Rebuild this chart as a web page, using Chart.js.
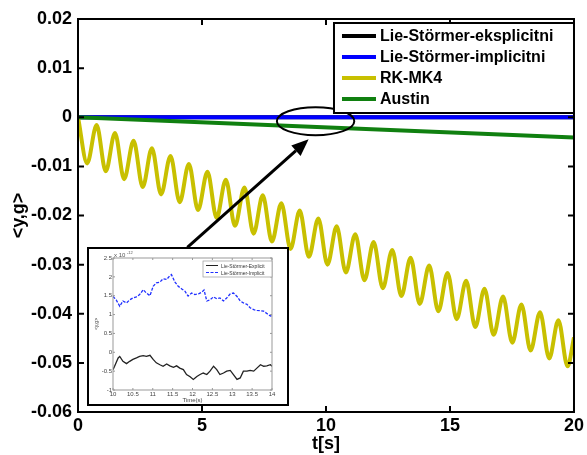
<!DOCTYPE html>
<html>
<head>
<meta charset="utf-8">
<script src="https://cdn.jsdelivr.net/npm/chart.js@4.4.1/dist/chart.umd.min.js"></script>
<style>
html, body { margin: 0; padding: 0; background: #fff; }
#wrap { position: relative; width: 587px; height: 455px; }
#inset { position: absolute; left: 87px; top: 247px; width: 202px; height: 159px; border: 2px solid #000; box-sizing: border-box; background: #fff; }
#inset canvas { position: absolute; left: 0; top: 0; }
</style>
</head>
<body>
<div id="wrap">
  <canvas id="mainChart" width="587" height="455"></canvas>
  <div id="inset"><canvas id="insetChart" width="198" height="155"></canvas></div>
</div>
<script>
// main plot
var tLine = [0, 20];
var explicitY = [0, 0];
var implicitY = [0, 0];
var austinY = [0, -0.0041];
var rkT = [0,0.37,0.75,1.12,1.49,1.86,2.24,2.61,2.98,3.35,3.73,4.10,4.47,4.84,5.22,5.59,5.96,6.33,6.71,7.08,7.45,7.82,8.20,8.57,8.94,9.31,9.69,10.06,10.43,10.80,11.18,11.55,11.92,12.29,12.67,13.04,13.41,13.78,14.16,14.53,14.90,15.27,15.65,16.02,16.39,16.76,17.14,17.51,17.88,18.25,18.63,19.00,19.37,19.74,20];
var rkY = [0,-0.0094,-0.0016,-0.0110,-0.0032,-0.0126,-0.0048,-0.0142,-0.0063,-0.0157,-0.0079,-0.0173,-0.0095,-0.0189,-0.0111,-0.0205,-0.0127,-0.0221,-0.0143,-0.0237,-0.0159,-0.0253,-0.0175,-0.0268,-0.0190,-0.0284,-0.0206,-0.0300,-0.0222,-0.0316,-0.0238,-0.0332,-0.0254,-0.0348,-0.0270,-0.0364,-0.0286,-0.0380,-0.0302,-0.0395,-0.0317,-0.0411,-0.0333,-0.0427,-0.0349,-0.0443,-0.0365,-0.0459,-0.0381,-0.0475,-0.0397,-0.0491,-0.0413,-0.0507,-0.0448];
var seriesNames = ['Lie-Störmer-eksplicitni', 'Lie-Störmer-implicitni', 'RK-MK4', 'Austin'];
var xTicks = [0, 5, 10, 15, 20];
var yTicks = [0.02, 0.01, 0, -0.01, -0.02, -0.03, -0.04, -0.05, -0.06];

// zoomed inset (values x 1e-12)
var insetImplT = [10.0,10.08,10.17,10.25,10.34,10.42,10.5,10.59,10.67,10.76,10.84,10.93,11.01,11.09,11.18,11.26,11.35,11.43,11.47,11.56,11.64,11.73,11.81,11.89,11.98,12.06,12.15,12.23,12.29,12.36,12.44,12.53,12.61,12.69,12.78,12.86,12.95,13.03,13.12,13.2,13.28,13.37,13.45,13.54,13.62,13.71,13.79,13.87,13.96,14.0];
var insetImplY = [1.48,1.39,1.22,1.36,1.31,1.39,1.44,1.47,1.53,1.66,1.57,1.50,1.75,1.84,1.86,1.95,1.93,2.03,2.06,1.86,1.75,1.68,1.62,1.49,1.57,1.53,1.55,1.59,1.65,1.36,1.39,1.47,1.42,1.44,1.36,1.44,1.55,1.57,1.48,1.36,1.31,1.27,1.18,1.13,1.11,1.10,1.09,1.03,0.96,0.98];
var insetExplT = [10.0,10.04,10.13,10.17,10.25,10.34,10.42,10.5,10.59,10.67,10.76,10.84,10.93,11.01,11.09,11.18,11.26,11.35,11.43,11.52,11.6,11.68,11.77,11.85,11.94,12.02,12.11,12.19,12.27,12.36,12.44,12.53,12.61,12.69,12.78,12.86,12.95,13.03,13.12,13.2,13.28,13.37,13.45,13.54,13.62,13.71,13.79,13.87,13.96,14.0];
var insetExplY = [-0.46,-0.37,-0.15,-0.11,-0.24,-0.30,-0.24,-0.19,-0.15,-0.11,-0.09,-0.11,-0.08,-0.19,-0.28,-0.33,-0.37,-0.31,-0.36,-0.40,-0.36,-0.42,-0.46,-0.59,-0.65,-0.72,-0.64,-0.59,-0.55,-0.59,-0.50,-0.37,-0.46,-0.59,-0.55,-0.50,-0.48,-0.59,-0.72,-0.68,-0.50,-0.50,-0.48,-0.50,-0.42,-0.33,-0.37,-0.36,-0.33,-0.37];
var insetNames = ['Lie-Störmer-Explicit', 'Lie-Störmer-Implicit'];
var insetXTicks = [10, 10.5, 11, 11.5, 12, 12.5, 13, 13.5, 14];
var insetYTicks = [2.5, 2, 1.5, 1, 0.5, 0, -0.5, -1];

function pts(xs, ys) {
    var out = [];
    for (var i = 0; i < xs.length; i++) out.push({x: xs[i], y: ys[i]});
    return out;
}
function fixTicks(list) {
    return function (s) { s.ticks = list.map(function (v) { return {value: v}; }); };
}
function plain(v) { return String(Math.round(v * 100) / 100); }

var BOLD = '"Liberation Sans", Arial, sans-serif';

// box round the axes plus inward ticks, matlab style
var frameTicks = {
    id: 'frameTicks',
    afterDatasetsDraw: function (chart, args, opts) {
        var ctx = chart.ctx, a = chart.chartArea;
        var xs = chart.scales.x, ys = chart.scales.y;
        ctx.save();
        ctx.strokeStyle = opts.color;
        ctx.lineWidth = opts.width;
        ctx.beginPath();
        xs.ticks.forEach(function (tk) {
            var px = xs.getPixelForValue(tk.value);
            ctx.moveTo(px, a.bottom); ctx.lineTo(px, a.bottom - opts.len);
            ctx.moveTo(px, a.top); ctx.lineTo(px, a.top + opts.len);
        });
        ys.ticks.forEach(function (tk) {
            var py = ys.getPixelForValue(tk.value);
            ctx.moveTo(a.left, py); ctx.lineTo(a.left + opts.len, py);
            ctx.moveTo(a.right, py); ctx.lineTo(a.right - opts.len, py);
        });
        ctx.stroke();
        ctx.strokeRect(a.left, a.top, a.right - a.left, a.bottom - a.top);
        ctx.restore();
    }
};

// boxed legend inside the top right corner
var boxLegend = {
    id: 'boxLegend',
    afterDraw: function (chart, args, o) {
        var ctx = chart.ctx, a = chart.chartArea;
        var ds = chart.data.datasets;
        var left = a.right - o.right - o.w, top = a.top + o.top;
        ctx.save();
        ctx.fillStyle = '#fff';
        ctx.fillRect(left, top, o.w, o.h);
        ctx.strokeStyle = o.frame;
        ctx.lineWidth = o.frameWidth;
        ctx.strokeRect(left, top, o.w, o.h);
        ctx.font = o.font;
        ctx.textBaseline = 'middle';
        ctx.fillStyle = o.textColor;
        for (var i = 0; i < ds.length; i++) {
            var y = top + o.first + i * o.row;
            ctx.strokeStyle = ds[i].borderColor;
            ctx.lineWidth = o.lineWidth;
            ctx.setLineDash(ds[i].borderDash || []);
            ctx.beginPath();
            ctx.moveTo(left + o.pad, y);
            ctx.lineTo(left + o.pad + o.sample, y);
            ctx.stroke();
            ctx.setLineDash([]);
            ctx.fillText(ds[i].label, left + o.pad + o.sample + o.gap, y + 1);
        }
        ctx.restore();
    }
};

// ellipse round the zero lines and the arrow from the inset
var zoomMark = {
    id: 'zoomMark',
    afterDatasetsDraw: function (chart, args, o) {
        var ctx = chart.ctx, xs = chart.scales.x, ys = chart.scales.y;
        var cx = xs.getPixelForValue(o.ellipse.t), cy = ys.getPixelForValue(o.ellipse.y);
        var rx = xs.getPixelForValue(o.ellipse.t + o.ellipse.rt) - cx;
        var ry = cy - ys.getPixelForValue(o.ellipse.y + o.ellipse.ry);
        ctx.save();
        ctx.strokeStyle = '#000';
        ctx.lineWidth = 2;
        ctx.beginPath();
        ctx.ellipse(cx, cy, rx, ry, 0, 0, Math.PI * 2);
        ctx.stroke();

        var x0 = xs.getPixelForValue(o.arrow.t0), y0 = ys.getPixelForValue(o.arrow.y0);
        var x1 = xs.getPixelForValue(o.arrow.t1), y1 = ys.getPixelForValue(o.arrow.y1);
        var ang = Math.atan2(y1 - y0, x1 - x0);
        var hl = 17, hw = 7;
        var bx = x1 - hl * Math.cos(ang), by = y1 - hl * Math.sin(ang);
        ctx.lineWidth = 3;
        ctx.beginPath();
        ctx.moveTo(x0, y0);
        ctx.lineTo(bx, by);
        ctx.stroke();
        ctx.fillStyle = '#000';
        ctx.beginPath();
        ctx.moveTo(x1, y1);
        ctx.lineTo(bx + hw * Math.sin(ang), by - hw * Math.cos(ang));
        ctx.lineTo(bx - hw * Math.sin(ang), by + hw * Math.cos(ang));
        ctx.closePath();
        ctx.fill();
        ctx.restore();
    }
};

var mainChart = new Chart(document.getElementById('mainChart'), {
    type: 'line',
    data: {
        datasets: [
            {label: seriesNames[0], data: pts(tLine, explicitY), borderColor: '#000000', borderWidth: 4, order: 4},
            {label: seriesNames[1], data: pts(tLine, implicitY), borderColor: '#0000ff', borderWidth: 4, order: 3},
            {label: seriesNames[2], data: pts(rkT, rkY), borderColor: '#c8c000', borderWidth: 4, cubicInterpolationMode: 'monotone', order: 2},
            {label: seriesNames[3], data: pts(tLine, austinY), borderColor: '#108010', borderWidth: 4, order: 1}
        ]
    },
    options: {
        responsive: false,
        animation: false,
        devicePixelRatio: 1,
        layout: {padding: {top: 19, right: 10, left: 0, bottom: 0}},
        elements: {point: {radius: 0}},
        scales: {
            x: {
                type: 'linear', min: 0, max: 20,
                afterBuildTicks: fixTicks(xTicks),
                afterFit: function (s) { s.height = 43; },
                grid: {display: false, drawTicks: false},
                border: {display: false},
                ticks: {color: '#000', padding: 3, maxRotation: 0, font: {family: BOLD, size: 18, weight: 'bold'}, callback: plain},
                title: {display: true, text: 't[s]', color: '#000', padding: {top: 0, bottom: 0}, font: {family: BOLD, size: 18, weight: 'bold'}}
            },
            y: {
                type: 'linear', min: -0.06, max: 0.02,
                afterBuildTicks: fixTicks(yTicks),
                afterFit: function (s) { s.width = 78; },
                grid: {display: false, drawTicks: false},
                border: {display: false},
                ticks: {
                    color: '#000', padding: 6, font: {family: BOLD, size: 18, weight: 'bold'},
                    callback: function (v) { var r = Math.round(v * 100) / 100; return r === 0 ? '0' : r.toFixed(2); }
                },
                title: {display: true, text: '<y,g>', color: '#000', padding: {top: 8, bottom: 0}, font: {family: BOLD, size: 18, weight: 'bold'}}
            }
        },
        plugins: {
            legend: {display: false},
            tooltip: {enabled: false},
            frameTicks: {color: '#000', width: 2, len: 6},
            boxLegend: {right: 0, top: 4, w: 240, h: 90, pad: 8, sample: 34, gap: 4, first: 13, row: 21,
                        font: 'bold 16px ' + BOLD, textColor: '#000', frame: '#000', frameWidth: 2, lineWidth: 4},
            zoomMark: {
                ellipse: {t: 9.58, y: -0.0008, rt: 1.56, ry: 0.00285},
                arrow: {t0: 4.41, y0: -0.0265, t1: 9.30, y1: -0.0045}
            }
        }
    },
    plugins: [frameTicks, zoomMark, boxLegend]
});

// inset: exponent label drawn by hand
var insetExtras = {
    id: 'insetExtras',
    afterDraw: function (chart) {
        var ctx = chart.ctx, a = chart.chartArea;
        ctx.save();
        ctx.fillStyle = '#555';
        ctx.font = '6px ' + BOLD;
        ctx.textBaseline = 'alphabetic';
        ctx.fillText('x 10', a.left + 1, a.top - 1);
        ctx.font = '4px ' + BOLD;
        ctx.fillText('-12', a.left + 14, a.top - 4);
        ctx.restore();
    }
};

var insetChart = new Chart(document.getElementById('insetChart'), {
    type: 'line',
    data: {
        datasets: [
            {label: insetNames[0], data: pts(insetExplT, insetExplY), borderColor: '#222222', borderWidth: 1.3},
            {label: insetNames[1], data: pts(insetImplT, insetImplY), borderColor: '#2030ff', borderWidth: 1.3, borderDash: [3, 1.5]}
        ]
    },
    options: {
        responsive: false,
        animation: false,
        devicePixelRatio: 1,
        layout: {padding: {top: 9, right: 15, left: 0, bottom: 0}},
        elements: {point: {radius: 0}, line: {tension: 0}},
        scales: {
            x: {
                type: 'linear', min: 10, max: 14,
                afterBuildTicks: fixTicks(insetXTicks),
                afterFit: function (s) { s.height = 14; },
                grid: {display: false, drawTicks: false},
                border: {display: false},
                ticks: {color: '#444', padding: 1, maxRotation: 0, autoSkip: false, font: {family: BOLD, size: 6}, callback: plain},
                title: {display: true, text: 'Time(s)', color: '#444', padding: {top: 0, bottom: 0}, font: {family: BOLD, size: 6}}
            },
            y: {
                type: 'linear', min: -1, max: 2.5,
                afterBuildTicks: fixTicks(insetYTicks),
                afterFit: function (s) { s.width = 24; },
                grid: {display: false, drawTicks: false},
                border: {display: false},
                ticks: {color: '#444', padding: 1, autoSkip: false, font: {family: BOLD, size: 6}, callback: plain},
                title: {display: true, text: '<y,g>', color: '#444', padding: {top: 5, bottom: 0}, font: {family: BOLD, size: 5}}
            }
        },
        plugins: {
            legend: {display: false},
            tooltip: {enabled: false},
            frameTicks: {color: '#999', width: 1, len: 2},
            boxLegend: {right: 0, top: 3, w: 69, h: 16, pad: 3, sample: 12, gap: 3, first: 4.5, row: 7,
                        font: '5px ' + BOLD, textColor: '#333', frame: '#999', frameWidth: 0.7, lineWidth: 1}
        }
    },
    plugins: [frameTicks, insetExtras, boxLegend]
});
</script>
</body>
</html>
